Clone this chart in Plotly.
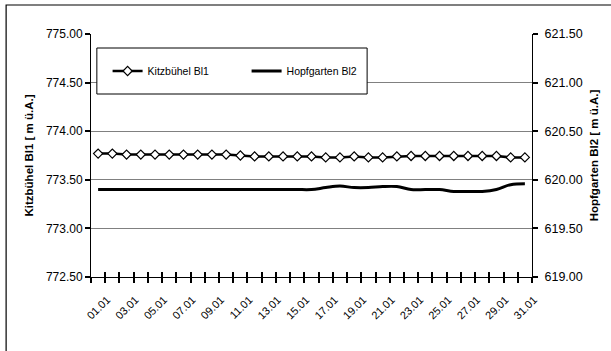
import plotly.graph_objects as go

days = [f"{d:02d}.01" for d in range(1, 32)]
label_text = [d if i % 2 == 0 else "" for i, d in enumerate(days)]

kitz = [773.77, 773.77, 773.76, 773.76, 773.76, 773.76, 773.76, 773.76, 773.76, 773.76,
        773.75, 773.74, 773.74, 773.74, 773.74, 773.74, 773.73, 773.73, 773.74, 773.73,
        773.73, 773.74, 773.745, 773.745, 773.745, 773.745, 773.745, 773.745, 773.745, 773.73,
        773.73]
hopf = [619.90, 619.90, 619.90, 619.90, 619.90, 619.90, 619.90, 619.90, 619.90, 619.90,
        619.90, 619.90, 619.90, 619.90, 619.90, 619.90, 619.92, 619.935, 619.92, 619.92,
        619.93, 619.93, 619.90, 619.90, 619.90, 619.88, 619.88, 619.88, 619.90, 619.95,
        619.96]

left_range = [772.5, 775.0]
right_range = [619.0, 621.5]

FONT = "Liberation Sans, Arial, sans-serif"

fig = go.Figure()
fig.add_trace(go.Scatter(
    x=days, y=kitz, name="Kitzbühel Bl1", mode="lines+markers",
    line=dict(color="black", width=2.5),
    marker=dict(symbol="diamond", size=7, color="white", line=dict(color="black", width=1.2)),
    yaxis="y", xaxis="x"))
fig.add_trace(go.Scatter(
    x=days, y=hopf, name="Hopfgarten Bl2", mode="lines",
    line=dict(color="black", width=3, shape="spline"),
    yaxis="y2", xaxis="x2"))

L, R, T, B = 91, 68, 34, 74
W, H = 611, 351
pw, ph = W - L - R, H - T - B

def px(x):
    return (x - L) / pw

def py(y):
    return (H - B - y) / ph

common_x = dict(type="category", categoryorder="array", categoryarray=days,
                range=[-0.5, 30.5], tickmode="array", tickvals=days,
                tickson="boundaries", ticklen=5, tickcolor="#000000", tickwidth=1.5,
                showgrid=False, zeroline=False)

fig.update_layout(
    width=W, height=H,
    margin=dict(l=L, r=R, t=T, b=B, pad=0),
    paper_bgcolor="white", plot_bgcolor="white",
    font=dict(family=FONT, size=12, color="black"),
    showlegend=True,
    legend=dict(orientation="h", x=px(108), y=py(71), xanchor="left", yanchor="middle",
                bgcolor="rgba(0,0,0,0)", borderwidth=0, font=dict(size=10.5, family=FONT),
                entrywidth=94, itemwidth=30),
    xaxis=dict(**common_x, ticktext=label_text, ticks="outside",
               tickangle=-45, showline=True, linecolor="black", linewidth=1,
               tickfont=dict(size=11), ticklabelstandoff=11, ticklabelshift=9),
    xaxis2=dict(**common_x, overlaying="x", anchor="y", side="bottom", ticks="inside",
                showticklabels=False, showline=False),
    yaxis=dict(range=left_range, dtick=0.5, tickformat=".2f", ticks="outside", ticklen=5,
               tickcolor="#000000", tickwidth=1.5, showline=True, linecolor="black", linewidth=1,
               showgrid=True, gridcolor="#808080", gridwidth=1, zeroline=False,
               title=dict(text="<b>Kitzbühel Bl1 [ m ü.A.]</b>", font=dict(size=11.5), standoff=9)),
    yaxis2=dict(range=right_range, dtick=0.5, tickformat=".2f", overlaying="y", side="right",
                ticks="outside", ticklen=5, tickcolor="#000000", tickwidth=1.5, showline=True,
                linecolor="black", linewidth=1, showgrid=False, zeroline=False,
                ticklabelstandoff=4, tickfont=dict(size=12.5),
                title=dict(text="<b>Hopfgarten Bl2 [ m ü.A.]</b>", font=dict(size=11.5), standoff=8)),
    shapes=[
        dict(type="rect", xref="paper", yref="paper", x0=px(4), x1=px(640), y0=py(400), y1=py(5),
             line=dict(color="black", width=1.2), fillcolor="rgba(0,0,0,0)", layer="below"),
        dict(type="rect", xref="paper", yref="paper", x0=px(97), x1=px(374), y0=py(94), y1=py(48),
             line=dict(color="black", width=1), fillcolor="white", layer="above"),
    ],
)

fig.write_html("out.html")
